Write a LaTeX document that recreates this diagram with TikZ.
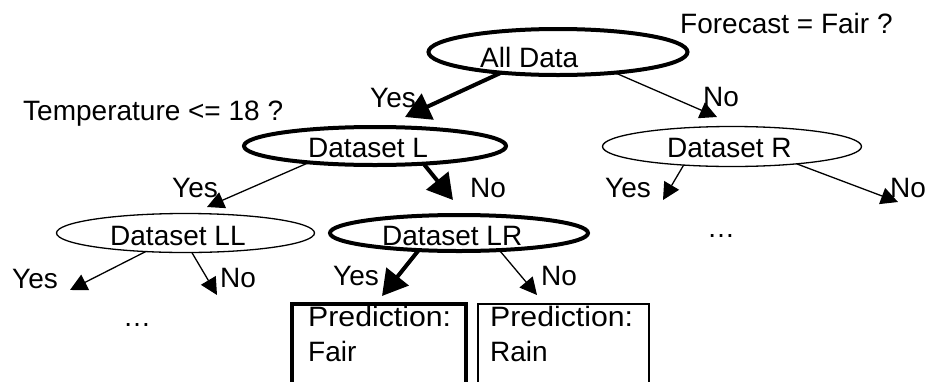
\documentclass[tikz,border=0pt]{standalone}
\usepackage{fontspec}
\usepackage{graphicx}
\setmainfont{Liberation Sans}
\usetikzlibrary{shapes.geometric,arrows.meta}
\begin{document}
\begin{tikzpicture}[x=1pt,y=-1pt,
  oval/.style={ellipse,draw,inner sep=0pt,outer sep=0pt},
  thk/.style={line width=4pt},
  thn/.style={line width=1.3pt},
  lbl/.style={anchor=base west,inner sep=0pt,font=\fontsize{28pt}{35pt}\selectfont},
  bigarrow/.style={thk,-{Triangle[length=25pt,width=28pt]}},
  smallarrow/.style={thn,-{Triangle[length=17pt,width=17pt]}},
  leafbox/.style={draw,rectangle,inner sep=0pt,outer sep=0pt,anchor=north west}]
\useasboundingbox (0,0) rectangle (927,381);
\clip (0,0) rectangle (927,381);
% ovals
\node[oval,thk,minimum width=259pt,minimum height=46pt] (all) at (558,52) {};
\node[oval,thk,minimum width=262pt,minimum height=38pt] (L) at (375,146) {};
\node[oval,thn,minimum width=259pt,minimum height=40pt] (R) at (732,146.5) {};
\node[oval,thn,minimum width=258pt,minimum height=39pt] (LL) at (185.5,233) {};
\node[oval,thk,minimum width=258pt,minimum height=36pt] (LR) at (459,233) {};
% oval texts
\node[lbl] (allt) at (480,67) {All Data};
\node[lbl] (Lt) at (308,157) {Dataset L};
\node[lbl] (Rt) at (667,157) {Dataset R};
\node[lbl] (LLt) at (110,245) {Dataset LL};
\node[lbl] (LRt) at (382,245) {Dataset LR};
% questions
\node[lbl] (q1) at (680,33) {Forecast = Fair ?};
\node[lbl] (q2) at (23,120) {Temperature <= 18 ?};
% arrow ends
\coordinate (allY) at (405,117);
\coordinate (allN) at (717,117);
\coordinate (LY) at (207,207);
\coordinate (LN) at (453,200);
\coordinate (RY) at (663,200);
\coordinate (RN) at (898,202);
\coordinate (LLY) at (70,290);
\coordinate (LLN) at (217,295);
\coordinate (LRY) at (382,296);
\coordinate (LRN) at (537,295);
% arrows
\draw[bigarrow] (all.200) -- (allY);
\draw[smallarrow] (all.340) -- (allN);
\draw[smallarrow] (L.194) -- (LY);
\draw[bigarrow] (L.340) -- (LN);
\draw[smallarrow] (R.201) -- (RY);
\draw[smallarrow] (R.345) -- (RN);
\draw[smallarrow] (LL.205) -- (LLY);
\draw[smallarrow] (LL.288) -- (LLN);
\draw[bigarrow] (LR.203) -- (LRY);
\draw[smallarrow] (LR.337) -- (LRN);
% yes / no labels
\node[lbl] (y1) at (370,107) {Yes};
\node[lbl] (n1) at (703,106) {No};
\node[lbl] (y2) at (172,197) {Yes};
\node[lbl] (n2) at (470,197) {No};
\node[lbl] (y3) at (605,197) {Yes};
\node[lbl] (n3) at (890,197) {No};
\node[lbl] (y4) at (12,288) {Yes};
\node[lbl] (n4) at (220,287) {No};
\node[lbl] (y5) at (333,285) {Yes};
\node[lbl] (n5) at (541,285) {No};
% ellipses
\node[lbl] (d1) at (707,237) {…};
\node[lbl] (d2) at (123,326) {…};
% leaves
\node[leafbox,thk,minimum width=174pt,minimum height=100pt] (fair) at (292,304) {};
\node[leafbox,thn,minimum width=171pt,minimum height=100pt] (rain) at (478,304) {};
\node[lbl] (f1) at (308,326) {\scalebox{1.08}[1]{Prediction:}};
\node[lbl] (f2) at (308,361) {Fair};
\node[lbl] (r1) at (490,326) {\scalebox{1.08}[1]{Prediction:}};
\node[lbl] (r2) at (490,361) {Rain};
\end{tikzpicture}
\end{document}
